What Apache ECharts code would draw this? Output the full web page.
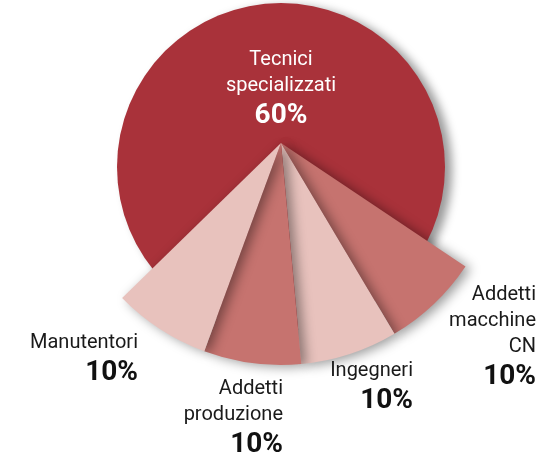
<!DOCTYPE html>
<html>
<head>
<meta charset="utf-8">
<script src="https://cdn.jsdelivr.net/npm/echarts@6/dist/echarts.min.js"></script>
<style>
  html, body { margin: 0; padding: 0; background: #fff; }
  #chart { width: 541px; height: 463px; }
</style>
</head>
<body>
<div id="chart"></div>
<script>
// dati
var mainName = 'Tecnici specializzati';
var mainValue = 60;
var smallNames = ['Addetti\nmacchine\nCN', 'Ingegneri', 'Addetti\nproduzione', 'Manutentori'];
var smallValues = [10, 10, 10, 10];

var smallColors = ['#c6736f', '#e8c2bd', '#c6736f', '#e8c2bd'];
// posizione etichette (bordo destro, alto)
var labelPos = [[536, 282], [413, 358], [283, 376], [138, 330]];

var chart = echarts.init(document.getElementById('chart'));

var textFont = 'Roboto, "DejaVu Sans", sans-serif';

chart.setOption({
  animation: false,
  series: [
    {
      type: 'pie',
      center: [281, 167],
      radius: 164,
      silent: true,
      itemStyle: {
        color: '#a9323a',
        shadowBlur: 10,
        shadowColor: 'rgba(0,0,0,0.4)',
        shadowOffsetX: 7,
        shadowOffsetY: 3
      },
      label: {
        show: true,
        position: 'inside',
        color: '#fff',
        fontFamily: textFont,
        formatter: function (p) {
          return '{n|' + p.name.replace(' ', '\n') + '}\n{p|' + p.value + '%}';
        },
        rich: {
          n: { fontSize: 20, lineHeight: 26, color: '#fff', fontFamily: textFont, align: 'center' },
          p: { fontSize: 28, fontWeight: 'bold', lineHeight: 34, color: '#fff', fontFamily: textFont, align: 'center' }
        }
      },
      labelLayout: function () {
        return { x: 281, y: 47, align: 'center', verticalAlign: 'top' };
      },
      data: [{ name: mainName, value: mainValue }]
    },
    {
      type: 'pie',
      center: [281, 143],
      radius: 222,
      startAngle: -33.8,
      endAngle: -135.7,
      clockwise: true,
      silent: true,
      itemStyle: {
        shadowBlur: 12,
        shadowColor: 'rgba(0,0,0,0.4)',
        shadowOffsetX: 5,
        shadowOffsetY: 2
      },
      label: {
        show: true,
        position: 'outside',
        overflow: 'none',
        color: '#1a1a1a',
        fontFamily: textFont,
        formatter: function (p) {
          return '{n|' + p.name + '}\n{p|' + p.value + '%}';
        },
        rich: {
          n: { fontSize: 20, lineHeight: 26, color: '#1a1a1a', fontFamily: textFont, align: 'right' },
          p: { fontSize: 28, fontWeight: 'bold', lineHeight: 34, color: '#111', fontFamily: textFont, align: 'right' }
        }
      },
      labelLine: { show: false },
      labelLayout: function (params) {
        var pos = labelPos[params.dataIndex];
        return { x: pos[0], y: pos[1], align: 'right', verticalAlign: 'top' };
      },
      data: smallNames.map(function (n, i) {
        return { name: n, value: smallValues[i], itemStyle: { color: smallColors[i] } };
      })
    }
  ]
});
</script>
</body>
</html>
